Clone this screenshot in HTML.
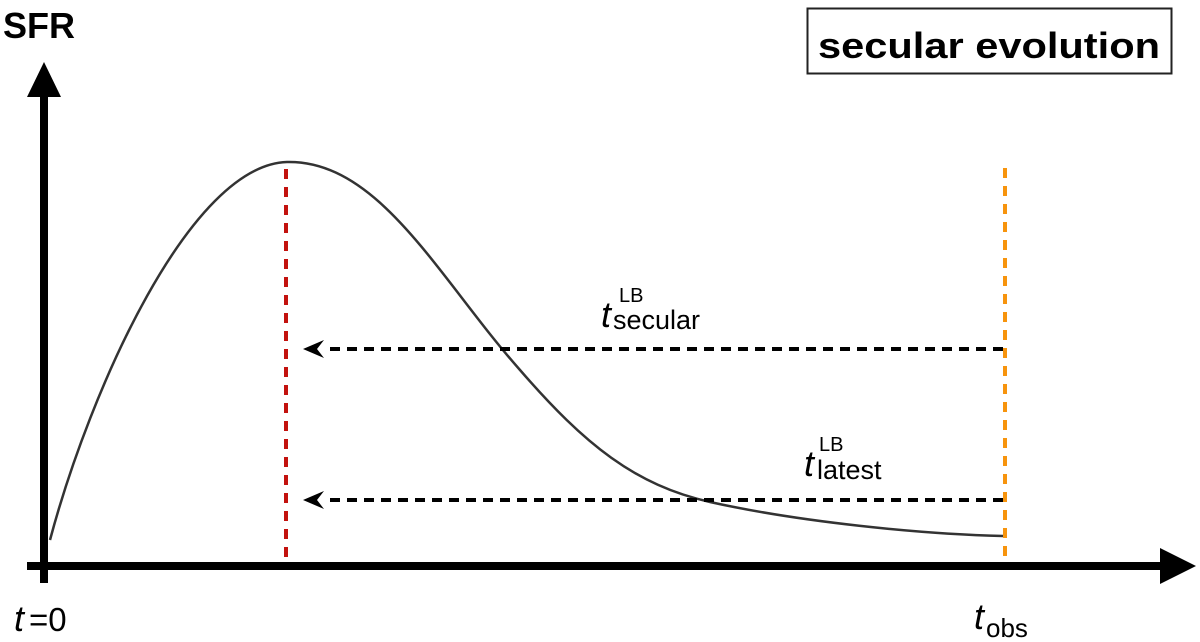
<!DOCTYPE html>
<html><head><meta charset="utf-8"><style>
html,body{margin:0;padding:0;background:#fff;width:1200px;height:642px;overflow:hidden}
svg{display:block}
text{font-family:"Liberation Sans",sans-serif}
</style></head><body>
<svg width="1200" height="642" viewBox="0 0 1200 642" xmlns="http://www.w3.org/2000/svg">
<text x="3" y="38" font-size="36" font-weight="bold">SFR</text>
<rect x="807.5" y="8.5" width="364" height="65" fill="#fff" stroke="#222" stroke-width="2"/>
<text x="818" y="58" font-size="36" font-weight="bold" textLength="342" lengthAdjust="spacingAndGlyphs">secular evolution</text>
<path d="M50,540 C90,390 190,165 287,162 C380,160 440,280 520,370 C585,445 635,485 710,502 C800,522 920,534 1003,536" fill="none" stroke="#333" stroke-width="2.5"/>
<line x1="286" y1="169" x2="286" y2="562" stroke="#c3120e" stroke-width="4" stroke-dasharray="10,8"/>
<line x1="1005" y1="168" x2="1005" y2="566" stroke="#f7940d" stroke-width="4" stroke-dasharray="10,8"/>
<rect x="40" y="92" width="8" height="491" fill="#000"/>
<polygon points="44,62 27,97 61,97" fill="#000"/>
<rect x="27" y="562" width="1135" height="8" fill="#000"/>
<polygon points="1196,566 1160,548 1160,584" fill="#000"/>
<line x1="1003" y1="349" x2="328" y2="349" stroke="#000" stroke-width="4" stroke-dasharray="10,7"/>
<polygon points="303,349 324,340 317,349 324,358" fill="#000"/>
<line x1="1003" y1="500" x2="328" y2="500" stroke="#000" stroke-width="4" stroke-dasharray="10,7"/>
<polygon points="303,500 324,491 317,500 324,509" fill="#000"/>
<text x="601" y="327" font-size="36" font-style="italic" font-family="Liberation Serif">t</text>
<text x="619" y="302" font-size="20">LB</text>
<text x="613" y="329" font-size="27">secular</text>
<text x="804" y="476" font-size="36" font-style="italic" font-family="Liberation Serif">t</text>
<text x="819" y="451" font-size="20">LB</text>
<text x="817" y="479" font-size="27">latest</text>
<text x="974" y="629" font-size="36" font-style="italic" font-family="Liberation Serif">t</text>
<text x="986" y="637" font-size="26">obs</text>
<text x="14" y="631" font-size="36" font-style="italic" font-family="Liberation Serif">t</text>
<text x="29" y="631" font-size="33">=0</text>
</svg>
</body></html>
